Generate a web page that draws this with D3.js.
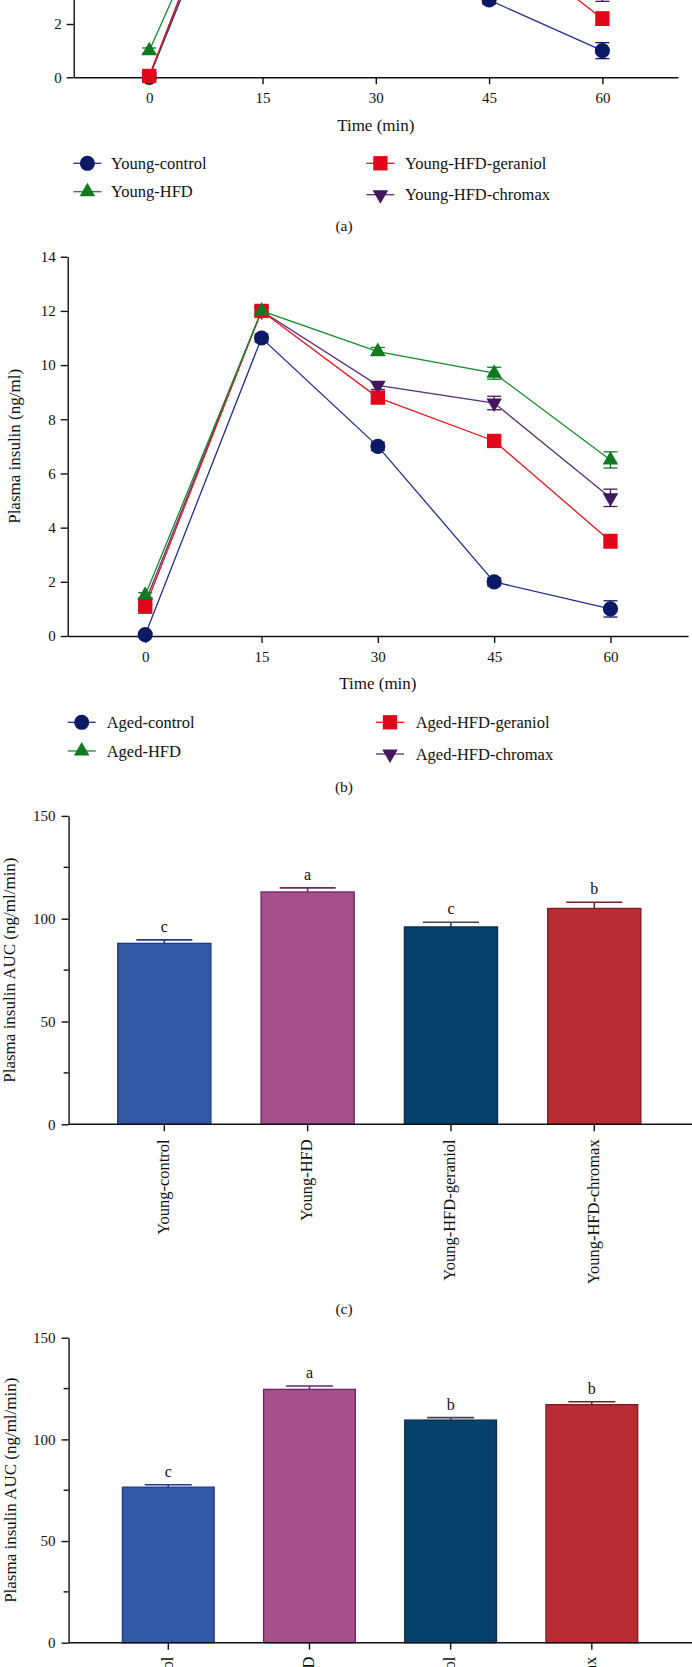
<!DOCTYPE html>
<html><head><meta charset="utf-8">
<script src="https://cdn.jsdelivr.net/npm/d3@7"></script>
<style>html,body{margin:0;padding:0;background:#fff;} svg{display:block;}</style>
</head><body><svg id="chart" width="692" height="1667"></svg>
<script>
// ---------------- DATA ----------------
const timePoints = [0, 15, 30, 45, 60];
const timeTicks = [0, 15, 30, 45, 60];
const insulinTicks = [0, 2, 4, 6, 8, 10, 12, 14];

const youngSeriesNames = ["Young-control", "Young-HFD", "Young-HFD-geraniol", "Young-HFD-chromax"];
const youngControl = [0.0, 10.5, 6.5, 2.9, 1.0];
const youngControlSE = [0.1, 0.2, 0.2, 0.15, 0.3];
const youngHFD = [1.0, 10.5, 9.5, 8.0, 5.5];
const youngHFDSE = [0.1, 0.2, 0.2, 0.2, 0.3];
const youngGeraniol = [0.05, 11.0, 7.5, 5.5, 2.2];
const youngGeraniolSE = [0.1, 0.2, 0.2, 0.2, 0.25];
const youngChromax = [0.02, 11.0, 8.5, 7.0, 3.2];
const youngChromaxSE = [0.1, 0.2, 0.2, 0.2, 0.35];

const agedSeriesNames = ["Aged-control", "Aged-HFD", "Aged-HFD-geraniol", "Aged-HFD-chromax"];
const agedControl = [0.05, 11.0, 7.0, 2.0, 1.0];
const agedControlSE = [0.05, 0.15, 0.15, 0.15, 0.3];
const agedHFD = [1.5, 12.0, 10.5, 9.7, 6.5];
const agedHFDSE = [0.1, 0.15, 0.15, 0.22, 0.3];
const agedGeraniol = [1.08, 12.0, 8.8, 7.2, 3.5];
const agedGeraniolSE = [0.1, 0.15, 0.15, 0.15, 0.25];
const agedChromax = [1.25, 12.0, 9.25, 8.6, 5.1];
const agedChromaxSE = [0.1, 0.15, 0.15, 0.25, 0.32];

const youngBarCategories = ["Young-control", "Young-HFD", "Young-HFD-geraniol", "Young-HFD-chromax"];
const youngAUC = [88, 113, 96, 105];
const youngAUCSE = [1.7, 2.0, 2.3, 3.0];
const youngLetters = ["c", "a", "c", "b"];

const agedBarCategories = ["Aged-control", "Aged-HFD", "Aged-HFD-geraniol", "Aged-HFD-chromax"];
const agedAUC = [76.5, 124.6, 109.5, 117.1];
const agedAUCSE = [1.2, 1.7, 1.2, 1.4];
const agedLetters = ["c", "a", "b", "b"];

const aucTicks = [0, 50, 100, 150];
const aucMinorTicks = [25, 75, 125];

// ---------------- STYLE ----------------
const FONT = "'Liberation Serif', 'Times New Roman', serif";
const markerColors = ["#0c1a66", "#0f7a22", "#e2061a", "#43175e"];
const lineColors = ["#22308a", "#178a2c", "#e8151f", "#56307a"];
const symbolTypes = ["circle", "triangle", "square", "down"];
const drawOrder = [0, 3, 2, 1];
const barFills = ["#3358a5", "#a4518b", "#06416b", "#b92c34"];
const barStrokes = ["#1f3b84", "#6c2466", "#0b2d4b", "#7a1c22"];
const errColors = ["#1e3a8a", "#6b2a6b", "#3a4756", "#7a1f25"];
const PAGE_H = 1667;

const svg = d3.select("#chart");
svg.append("rect").attr("width", 692).attr("height", PAGE_H).attr("fill", "#fff");

function styleAxis(g, fs) {
  g.selectAll("text").attr("font-family", FONT).attr("font-size", fs).attr("fill", "#111");
  g.selectAll("line,path").attr("stroke", "#111").attr("stroke-width", 1.4);
}

function symbolPath(type) {
  if (type === "circle") return d3.symbol(d3.symbolCircle, 180)();
  if (type === "square") return d3.symbol(d3.symbolSquare, 205)();
  return d3.symbol(d3.symbolTriangle, 105)();
}
function drawMarker(g, type, cx, cy, color) {
  const p = g.append("path").attr("d", symbolPath(type)).attr("fill", color);
  if (type === "down") p.attr("transform", `translate(${cx},${cy}) rotate(180)`);
  else p.attr("transform", `translate(${cx},${cy})`);
}

function drawLinePanel(cfg) {
  const g = svg.append("g");
  const x = d3.scaleLinear().domain([-10, 70]).range([cfg.left, cfg.right]);
  const y = d3.scaleLinear().domain([0, 14]).range([cfg.baseY, cfg.baseY - 14 * cfg.ppu]);

  const gx = g.append("g").attr("transform", `translate(0,${cfg.baseY})`)
    .call(d3.axisBottom(x).tickValues(timeTicks).tickSize(7).tickSizeOuter(0).tickPadding(8));
  styleAxis(gx, 15);
  const gy = g.append("g").attr("transform", `translate(${cfg.left},0)`)
    .call(d3.axisLeft(y).tickValues(insulinTicks).tickSize(7).tickSizeOuter(0).tickPadding(5));
  styleAxis(gy, 15);
  // labels of ticks lying above the visible page are not part of the picture
  gy.selectAll(".tick").filter(d => y(d) < 8).select("text").remove();

  const line = d3.line().x((d, i) => x(timePoints[i])).y(d => y(d));
  drawOrder.forEach(k => {
    g.append("path").attr("d", line(cfg.values[k])).attr("fill", "none")
      .attr("stroke", lineColors[k]).attr("stroke-width", 1.3);
  });
  drawOrder.forEach(k => {
    cfg.values[k].forEach((v, i) => {
      const cx = x(timePoints[i]), se = cfg.se[k][i];
      const eg = g.append("g").attr("stroke", markerColors[k]).attr("stroke-width", 1.3);
      eg.append("line").attr("x1", cx).attr("x2", cx).attr("y1", y(v - se)).attr("y2", y(v + se));
      [v - se, v + se].forEach(e => eg.append("line").attr("x1", cx - 7).attr("x2", cx + 7).attr("y1", y(e)).attr("y2", y(e)));
    });
  });
  drawOrder.forEach(k => {
    cfg.values[k].forEach((v, i) => drawMarker(g, symbolTypes[k], x(timePoints[i]), y(v), markerColors[k]));
  });

  g.append("text").attr("x", (cfg.left + cfg.right) / 2).attr("y", cfg.timeTitleY)
    .attr("text-anchor", "middle").attr("font-family", FONT).attr("font-size", 17).attr("fill", "#111")
    .text("Time (min)");
  const titleCenter = cfg.baseY - 7 * cfg.ppu;
  if (titleCenter > 80) {
    g.append("text").attr("transform", `translate(19.5,${titleCenter}) rotate(-90)`)
      .attr("text-anchor", "middle").attr("font-family", FONT).attr("font-size", 17).attr("fill", "#111")
      .text("Plasma insulin (ng/ml)");
  }

  // legend
  cfg.names.forEach((name, k) => {
    const col = k === 0 || k === 1 ? 0 : 1;
    const row = k === 0 || k === 2 ? 0 : 1;
    const mx = cfg.legMarkerX[col];
    const ry = cfg.legRowY[row] + (col === 1 && row === 1 ? 3 : 0);
    g.append("line").attr("x1", mx - 14).attr("x2", mx + 14).attr("y1", ry).attr("y2", ry)
      .attr("stroke", lineColors[k]).attr("stroke-width", 1.3);
    drawMarker(g, symbolTypes[k], mx, ry, markerColors[k]);
    g.append("text").attr("x", cfg.legTextX[col]).attr("y", ry).attr("dy", "0.34em")
      .attr("font-family", FONT).attr("font-size", 16.5).attr("fill", "#111").text(name);
  });
  g.append("text").attr("x", 344).attr("y", cfg.labelY).attr("text-anchor", "middle")
    .attr("font-family", FONT).attr("font-size", 15.5).attr("fill", "#111").text(cfg.label);
}

function drawBarPanel(cfg) {
  const g = svg.append("g");
  const y = d3.scaleLinear().domain([0, 150]).range([cfg.baseY, cfg.baseY - 150 * cfg.ppu]);
  const x = d3.scaleBand().domain(cfg.cats).range(cfg.band).paddingInner(0.35).paddingOuter(0.175);
  const bw = x.bandwidth();

  cfg.cats.forEach((c, i) => {
    const v = cfg.values[i], se = cfg.se[i], cx = x(c) + bw / 2;
    g.append("line").attr("x1", cx).attr("x2", cx).attr("y1", y(v)).attr("y2", y(v + se))
      .attr("stroke", errColors[i]).attr("stroke-width", 1.6);
    g.append("line").attr("x1", cx - cfg.capW / 2).attr("x2", cx + cfg.capW / 2).attr("y1", y(v + se)).attr("y2", y(v + se))
      .attr("stroke", errColors[i]).attr("stroke-width", 1.6);
    g.append("rect").attr("x", x(c)).attr("y", y(v)).attr("width", bw).attr("height", cfg.baseY - y(v))
      .attr("fill", barFills[i]).attr("stroke", barStrokes[i]).attr("stroke-width", 1.3);
    g.append("text").attr("x", cx).attr("y", y(v + se) - 8).attr("text-anchor", "middle")
      .attr("font-family", FONT).attr("font-size", 16).attr("fill", "#111").text(cfg.letters[i]);
    g.append("text").attr("transform", `translate(${cx + 4.5},${cfg.baseY + cfg.labelGap}) rotate(-90)`)
      .attr("text-anchor", "end").attr("font-family", FONT).attr("font-size", 16.5).attr("fill", "#111").text(c);
  });

  const gy = g.append("g").attr("transform", `translate(${cfg.left},0)`)
    .call(d3.axisLeft(y).tickValues(aucTicks).tickSize(7).tickSizeOuter(0).tickPadding(6));
  styleAxis(gy, 15);
  aucMinorTicks.forEach(t => g.append("line").attr("x1", cfg.left - 5).attr("x2", cfg.left)
    .attr("y1", y(t)).attr("y2", y(t)).attr("stroke", "#111").attr("stroke-width", 1.4));
  const gx = g.append("g").attr("transform", `translate(0,${cfg.baseY})`)
    .call(d3.axisBottom(x).tickSize(7).tickSizeOuter(0).tickFormat(""));
  gx.select(".domain").remove();
  styleAxis(gx, 15);
  g.append("line").attr("x1", cfg.left).attr("x2", 692).attr("y1", cfg.baseY).attr("y2", cfg.baseY)
    .attr("stroke", "#111").attr("stroke-width", 1.4);

  g.append("text").attr("transform", `translate(${cfg.titleX},${cfg.baseY - 75 * cfg.ppu}) rotate(-90)`)
    .attr("text-anchor", "middle").attr("font-family", FONT).attr("font-size", 17).attr("fill", "#111")
    .text("Plasma insulin AUC (ng/ml/min)");
  if (cfg.label) g.append("text").attr("x", 344).attr("y", cfg.labelY).attr("text-anchor", "middle")
    .attr("font-family", FONT).attr("font-size", 15.5).attr("fill", "#111").text(cfg.label);
}

drawLinePanel({
  left: 73.7, right: 677.9, baseY: 77.3, ppu: 26.65,
  values: [youngControl, youngHFD, youngGeraniol, youngChromax],
  se: [youngControlSE, youngHFDSE, youngGeraniolSE, youngChromaxSE],
  names: youngSeriesNames, timeTitleY: 130.5,
  legMarkerX: [87.4, 380.4], legTextX: [111, 405], legRowY: [163.3, 191.7],
  label: "(a)", labelY: 231
});
drawLinePanel({
  left: 67.7, right: 688, baseY: 636, ppu: 27.09,
  values: [agedControl, agedHFD, agedGeraniol, agedChromax],
  se: [agedControlSE, agedHFDSE, agedGeraniolSE, agedChromaxSE],
  names: agedSeriesNames, timeTitleY: 688.5,
  legMarkerX: [81.7, 390], legTextX: [106.7, 415.7], legRowY: [722.3, 751],
  label: "(b)", labelY: 792
});
drawBarPanel({
  left: 68.6, baseY: 1124.3, ppu: 2.056, band: [92.65, 665.95], capW: 56,
  cats: youngBarCategories, values: youngAUC, se: youngAUCSE, letters: youngLetters,
  labelGap: 15, titleX: 15, label: "(c)", labelY: 1313.5
});
drawBarPanel({
  left: 68.6, baseY: 1642.7, ppu: 2.033, band: [97.7, 662.4], capW: 47,
  cats: agedBarCategories, values: agedAUC, se: agedAUCSE, letters: agedLetters,
  labelGap: 14, titleX: 16, label: null
});
</script></body></html>
